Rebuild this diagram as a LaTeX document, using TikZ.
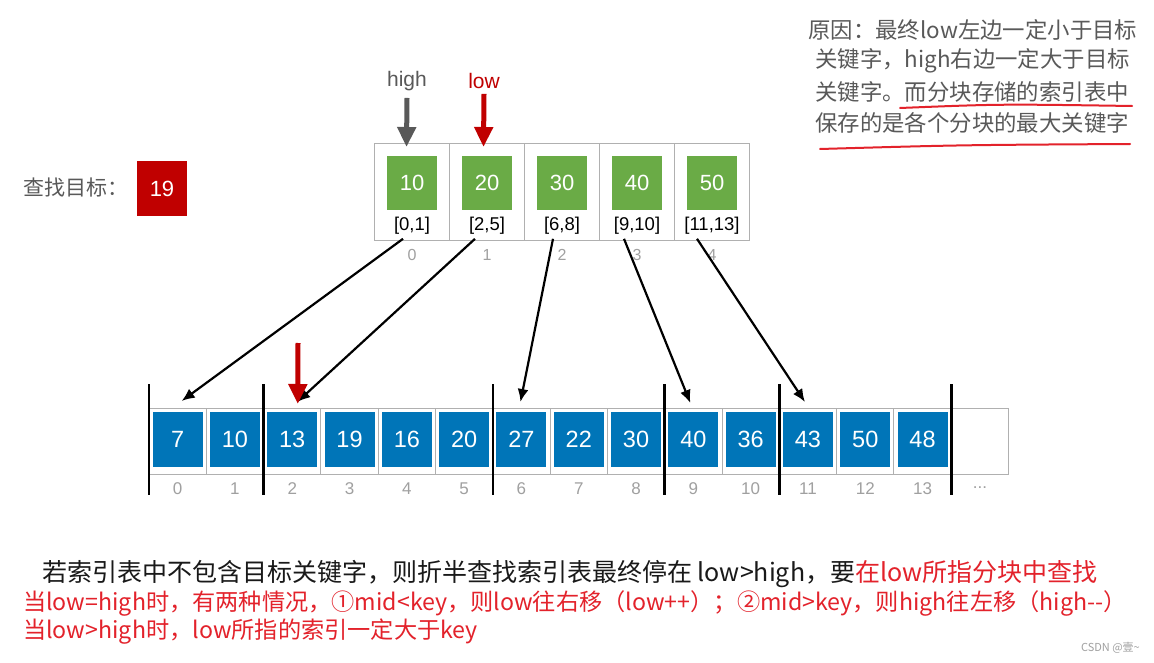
\documentclass[tikz,border=0pt]{standalone}
\usepackage{fontspec}
\setmainfont{Liberation Sans}
\newfontfamily\cjk{Noto Sans CJK SC}
\usetikzlibrary{arrows.meta}
\definecolor{gfill}{HTML}{6AAB46}
\definecolor{bfill}{HTML}{0075B8}
\definecolor{dred}{HTML}{C00000}
\definecolor{redtxt}{HTML}{E3222B}
\definecolor{txtgray}{HTML}{595959}
\definecolor{numgray}{HTML}{A0A0A0}
\definecolor{cellgray}{HTML}{B0B0B0}
\begin{document}
\begin{tikzpicture}[x=1pt,y=-1pt,
  idxcell/.style={draw=cellgray, line width=0.9pt, minimum width=75pt, minimum height=97pt, inner sep=0pt, outer sep=0pt},
  gbox/.style={fill=gfill, minimum width=50pt, minimum height=54pt, inner sep=0pt, text=white, font=\fontsize{22}{22}\selectfont},
  rng/.style={inner sep=1pt, font=\fontsize{18.5}{18.5}\selectfont},
  inum/.style={inner sep=1pt, text=numgray, font=\fontsize{16}{16}\selectfont},
  cellbox/.style={draw=cellgray, line width=0.9pt, minimum width=57.3pt, minimum height=66pt, inner sep=0pt, outer sep=0pt},
  bbox/.style={fill=bfill, minimum width=50pt, minimum height=55pt, inner sep=0pt, text=white, font=\fontsize{23.5}{23.5}\selectfont},
  conn/.style={line width=2.2pt, -{Latex[length=13pt,width=11pt]}},
  bar/.style={line width=2.6pt},
  fat/.style={line width=5pt, -{Triangle[length=20pt,width=18pt]}},
  cjktxt/.style={inner sep=0pt, anchor=west, font=\cjk\fontsize{22.4}{22.4}\selectfont},
  ptrlbl/.style={inner sep=1pt, font=\fontsize{21}{21}\selectfont}
]
\useasboundingbox[fill=white] (0,0) rectangle (1154,663);

% ---- top-right note
\node[cjktxt, text=txtgray] (t1) at (808,30) {原因：最终low左边一定小于目标};
\node[cjktxt, text=txtgray] (t2) at (815,61) {关键字，high右边一定大于目标};
\node[cjktxt, text=txtgray] (t3) at (815,92) {关键字。而分块存储的索引表中};
\node[cjktxt, text=txtgray] (t4) at (815,123) {保存的是各个分块的最大关键字};
\draw[redtxt, line width=2pt, line cap=round] (900,108) .. controls (1000,104) .. (1132,106);
\draw[redtxt, line width=2pt, line cap=round] (820,149) .. controls (960,145) .. (1130,144);

% ---- target
\node[cjktxt, text=txtgray, font=\cjk\fontsize{21}{21}\selectfont] (tgt) at (23,188) {查找目标：};
\node[fill=dred, minimum width=50pt, minimum height=55pt, inner sep=0pt, text=white, font=\fontsize{22}{22}\selectfont] (key) at (162,188.5) {19};

% ---- index table
\foreach \v/\r [count=\i from 0] in {10/{[0,1]},20/{[2,5]},30/{[6,8]},40/{[9,10]},50/{[11,13]}}{
  \node[idxcell] (ic\i) at ({374.5+75*(\i+0.5)},191.5) {};
  \node[gbox] (g\i) at ({374.5+75*(\i+0.5)},183) {\v};
  \node[rng] (r\i) at ({374.5+75*(\i+0.5)},226) {\r};
  \node[inum] (ix\i) at ({374.5+75*(\i+0.5)},255) {\i};
}

% ---- pointers on index table
\node[ptrlbl, text=txtgray] (hi) at (407,81) {high};
\node[ptrlbl, text=dred] (lo) at (484,81) {low};
\draw[fat, txtgray] ([yshift=-6pt]hi.south) -- ([xshift=-5.5pt,yshift=-4pt]ic0.north);
\draw[fat, dred] ([yshift=-4pt]lo.south) -- ([xshift=-3.5pt,yshift=-4pt]ic1.north);

% ---- lower array
\foreach \v [count=\i from 0] in {7,10,13,19,16,20,27,22,30,40,36,43,50,48}{
  \node[cellbox] (c\i) at ({149+57.3*(\i+0.5)},441) {};
  \node[bbox] (b\i) at ({149+57.3*(\i+0.5)},439.5) {\v};
  \node[inum, font=\fontsize{17}{17}\selectfont] (n\i) at ({149+57.3*(\i+0.5)},489) {\i};
}
\node[cellbox] (c14) at ({149+57.3*14.5},441) {};
\node[inum, font=\fontsize{17}{17}\selectfont] (dots) at (980,488) {...};

\foreach \k in {0,2,6,9,11,14}{
  \draw[bar] ([yshift=24pt]c\k.north west) -- ([yshift=-21pt]c\k.south west);
}

% ---- connectors
\draw[conn] ([xshift=-9pt,yshift=-3pt]r0.south) -- ([xshift=4pt,yshift=7pt]c0.north);
\draw[conn] ([xshift=-12pt,yshift=-3pt]r1.south) -- ([xshift=5pt,yshift=6pt]c2.north);
\draw[conn] ([xshift=-9pt,yshift=-3pt]r2.south) -- ([xshift=-1pt,yshift=6pt]c6.north);
\draw[conn] ([xshift=-13pt,yshift=-3pt]r3.south) -- ([xshift=-3pt,yshift=5pt]c9.north);
\draw[conn] ([xshift=-15pt,yshift=-3pt]r4.south) -- ([xshift=-3pt,yshift=6pt]c11.north);

\coordinate (lowptr) at (298,343);
\draw[fat, dred] (lowptr) -- ([xshift=5.5pt,yshift=4pt]c2.north);

% ---- bottom text
\node[cjktxt, text=black!90, font=\cjk\fontsize{25}{25}\selectfont] (l1) at (42,574) {若索引表中不包含目标关键字，则折半查找索引表最终停在 low>high，要\textcolor{redtxt}{在low所指分块中查找}};
\node[cjktxt, text=redtxt, font=\cjk\fontsize{23.2}{23.2}\selectfont] (l2) at (23,603) {当low=high时，有两种情况，①mid<key，则low往右移（low++）；②mid>key，则high往左移（high--）};
\node[cjktxt, text=redtxt, font=\cjk\fontsize{23.2}{23.2}\selectfont] (l3) at (23,632) {当low>high时，low所指的索引一定大于key};

\node[inner sep=0pt, anchor=east, text=numgray, font=\cjk\fontsize{11}{11}\selectfont] (csdn) at (1140,648) {CSDN @壹\textasciitilde};
\end{tikzpicture}
\end{document}
